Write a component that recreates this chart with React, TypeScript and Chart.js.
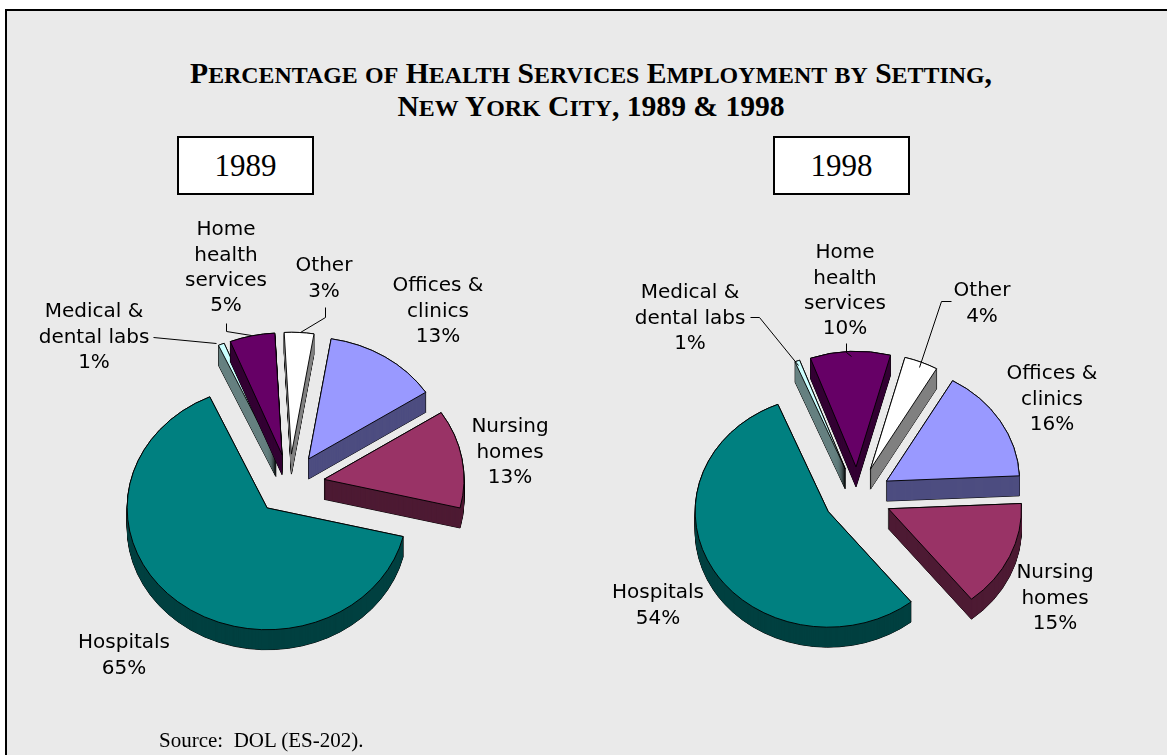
import React, { useEffect, useRef } from "react";
import { Chart, registerables } from "chart.js";

Chart.register(...registerables);

const W = 1167;
const H = 755;

const sliceNames = ["Hospitals", "Medical & dental labs", "Home health services", "Other", "Offices & clinics", "Nursing homes"];
const values1989 = [64.5, 0.7, 5.2, 3.4, 13.2, 13.0];
const values1998 = [54.55, 0.6, 9.75, 4.1, 16.0, 15.0];
const percent1989 = [65, 1, 5, 3, 13, 13];
const percent1998 = [54, 1, 10, 4, 16, 15];
const faceColors = ["#008080", "#CCFFFF", "#660066", "#FFFFFF", "#9999FF", "#993366"];
const sideColors = ["#004040", "#668080", "#330033", "#808080", "#4D4D80", "#4D1A33"];
const labelLines = [["Hospitals"], ["Medical &", "dental labs"], ["Home", "health", "services"], ["Other"], ["Offices &", "clinics"], ["Nursing", "homes"]];
const titleLine1 = "Percentage of Health Services Employment by Setting,";
const titleLine2 = "New York City, 1989 & 1998";
const sourceText = "Source:  DOL (ES-202).";

const layout1989 = {
  cx: 289, cy: 484, r: 140, explode: 35, rotation: 103.6,
  labelPos: [[124, 643], [94, 312], [226, 230], [324, 266], [438, 286], [510, 427]],
  leaders: [[[153, 337], [216, 343]], [[226, 323], [226, 331], [251, 335]], [[325, 307], [325, 317], [300, 332]]],
};
const layout1998 = {
  cx: 857, cy: 496, r: 133, explode: 34, rotation: 141.4,
  labelPos: [[658, 593], [690, 293], [845, 253], [982, 291], [1052, 374], [1055, 573]],
  leaders: [[[750, 317], [759, 317], [798, 365]], [[846, 343], [846, 352], [851, 356]], [[951, 301], [941, 301], [919, 367]]],
};

const Y_RATIO = 0.87;
const DEPTH = 20;
const LINE = 25.3;

function makePlugin(cfg: any, lines: string[][], pct: number[]) {
  return {
    id: "pie3d",
    beforeDatasetsDraw(chart: any) {
      const ctx = chart.ctx;
      const arcs = chart.getDatasetMeta(0).data;
      arcs.forEach((arc: any, i: number) => {
        const base = arc.options;
        const mid = (arc.startAngle + arc.endAngle) / 2;
        const at = (dy: number, fill: string, stroke: string, bw: number) => {
          ctx.save();
          ctx.translate(arc.x, arc.y + dy);
          ctx.scale(1, Y_RATIO);
          ctx.translate(Math.cos(mid) * cfg.explode, Math.sin(mid) * cfg.explode);
          ctx.translate(-arc.x, -arc.y);
          arc.options = { ...base, backgroundColor: fill, borderColor: stroke, borderWidth: bw };
          arc.draw(ctx);
          ctx.restore();
        };
        for (let d = DEPTH; d >= 0; d--) at(d, "#000000", "#000000", 1);
        for (let d = DEPTH; d >= 1; d--) at(d, sideColors[i], sideColors[i], 0);
        at(0, faceColors[i], "#000000", 1);
        arc.options = base;
      });
      return false;
    },
    afterDraw(chart: any) {
      const ctx = chart.ctx;
      ctx.save();
      ctx.fillStyle = "#000000";
      ctx.font = "20px 'DejaVu Sans'";
      ctx.textAlign = "center";
      ctx.textBaseline = "middle";
      lines.forEach((ls, i) => {
        const [x, y] = cfg.labelPos[i];
        [...ls, `${pct[i]}%`].forEach((t, j) => ctx.fillText(t, x, y + j * LINE));
      });
      ctx.strokeStyle = "#000000";
      ctx.lineWidth = 1;
      cfg.leaders.forEach((pts: number[][]) => {
        ctx.beginPath();
        pts.forEach(([x, y], k) => (k ? ctx.lineTo(x + 0.5, y + 0.5) : ctx.moveTo(x + 0.5, y + 0.5)));
        ctx.stroke();
      });
      ctx.restore();
    },
  };
}

function Pie({ cfg, vals, pct }: { cfg: any; vals: number[]; pct: number[] }) {
  const ref = useRef<HTMLCanvasElement>(null);
  useEffect(() => {
    const chart = new Chart(ref.current!, {
      type: "pie",
      data: {
        labels: sliceNames,
        datasets: [{ data: vals, backgroundColor: faceColors, borderColor: "#000000", borderWidth: 1 }],
      },
      options: {
        animation: false,
        responsive: false,
        rotation: cfg.rotation,
        layout: {
          padding: { left: cfg.cx - cfg.r, right: W - cfg.cx - cfg.r - 1, top: cfg.cy - cfg.r, bottom: H - cfg.cy - cfg.r - 1 },
        },
        plugins: { legend: { display: false }, tooltip: { enabled: false }, title: { display: false } },
      },
      plugins: [makePlugin(cfg, labelLines, pct)],
    } as any);
    return () => chart.destroy();
  }, []);
  return <canvas ref={ref} width={W} height={H} style={{ position: "absolute", left: 0, top: 0, width: W, height: H }} />;
}

const boxStyle = (left: number): React.CSSProperties => ({
  position: "absolute", left, top: 136, width: 133, height: 55, boxSizing: "content-box",
  border: "2px solid #000", background: "#fff", textAlign: "center", lineHeight: "55px",
  fontFamily: "'Liberation Serif'", fontSize: 31,
});

function SmallCaps({ text, top }: { text: string; top: number }) {
  const runs = text.match(/[a-z]+|[^a-z]+/g) || [];
  return (
    <div style={{
      position: "absolute", left: 0, width: 1182, top, textAlign: "center", fontFamily: "'Liberation Serif'",
      fontWeight: "bold", fontSize: 29.6, whiteSpace: "nowrap", lineHeight: "36px",
    }}>
      {runs.map((r, i) =>
        /[a-z]/.test(r) ? <span key={i} style={{ fontSize: 23.9 }}>{r.toUpperCase()}</span> : <span key={i}>{r}</span>
      )}
    </div>
  );
}

export default function App() {
  useEffect(() => {
    document.body.style.margin = "0";
    document.body.style.background = "#fff";
  }, []);
  return (
    <div style={{ position: "fixed", left: 0, top: 0, width: W, height: H, overflow: "hidden", background: "#fff" }}>
      <div style={{ position: "absolute", left: 5, top: 9, width: 1200, height: 800, background: "#EAEAEA", border: "2px solid #000" }} />
      <SmallCaps text={titleLine1} top={55} />
      <SmallCaps text={titleLine2} top={88} />
      <div style={boxStyle(177)}>1989</div>
      <div style={boxStyle(773)}>1998</div>
      <Pie cfg={layout1989} vals={values1989} pct={percent1989} />
      <Pie cfg={layout1998} vals={values1998} pct={percent1998} />
      <div style={{ position: "absolute", left: 159, top: 728, fontFamily: "'Liberation Serif'", fontSize: 21, whiteSpace: "pre" }}>{sourceText}</div>
    </div>
  );
}
